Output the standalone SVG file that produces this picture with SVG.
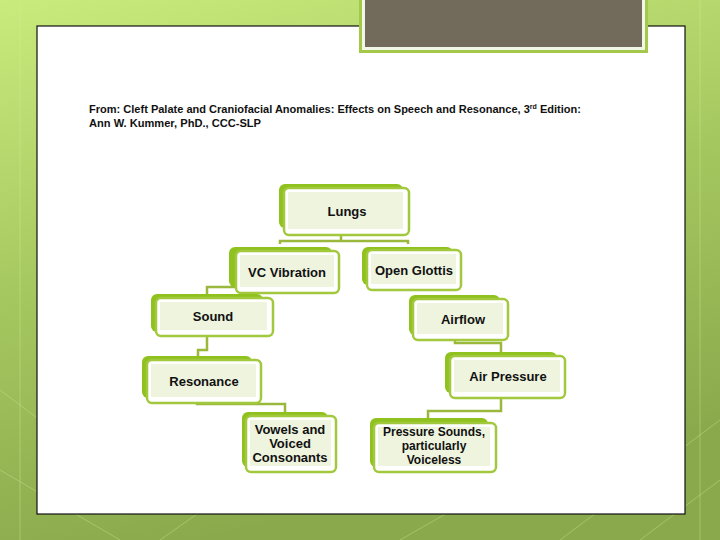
<svg xmlns="http://www.w3.org/2000/svg" width="720" height="540" viewBox="0 0 720 540">
<defs>
<linearGradient id="bg" x1="0" y1="0" x2="0.3" y2="1">
<stop offset="0" stop-color="#c9ea7c"/>
<stop offset="0.5" stop-color="#a6c860"/>
<stop offset="1" stop-color="#8aa94c"/>
</linearGradient>
<style>
.back{fill:#8fc21e}
.front{fill:#ffffff;stroke:#a2c83e;stroke-width:2.5}
.inner{fill:#eef4de}
.lbl{font-family:"Liberation Sans",Arial,sans-serif;font-weight:bold;font-size:13px;fill:#111;text-anchor:middle}
.sm{font-size:12px}
.ttl{font-family:"Liberation Sans",Arial,sans-serif;font-weight:bold;font-size:11px;fill:#111}
.conn{fill:none;stroke:#9ab83c;stroke-width:2.5}
.bgl{stroke:#d8f0a0;stroke-width:1;opacity:0.35;fill:none}
</style>
</defs>
<rect x="0" y="0" width="720" height="540" fill="url(#bg)"/>
<g class="bgl">
<path d="M0 470 L120 540 M0 390 L40 420 M560 540 L720 420 M640 540 L720 480 M20 0 L20 540 M700 0 L700 540 M160 540 L260 470 M400 540 L470 500"/>
</g>
<rect x="37" y="26" width="648" height="488" fill="#ffffff" stroke="#111" stroke-width="1.2"/>
<rect x="359" y="-2" width="289" height="55" fill="#a3c84a"/>
<rect x="362" y="-2" width="283" height="52" fill="#f2f6e6"/>
<rect x="365" y="-2" width="277" height="49" fill="#726a5a"/>
<text class="ttl" x="89" y="113" textLength="492" lengthAdjust="spacingAndGlyphs">From: Cleft Palate and Craniofacial Anomalies:  Effects on Speech and Resonance, 3<tspan font-size="7" dy="-4">rd</tspan><tspan dy="4"> Edition:</tspan></text>
<text class="ttl" x="89" y="127" textLength="172" lengthAdjust="spacingAndGlyphs">Ann W. Kummer, PhD., CCC-SLP</text>
<g id="connectors" class="conn">
<path d="M341 235 V241 M280 244 V241 H408 V244"/>
<path d="M236 287 H207 V295"/>
<path d="M207 336 V350 H198 V357"/>
<path d="M197 403 V404 H285 V412"/>
<path d="M455 340 V343 H501 V352"/>
<path d="M501 398 V411 H428 V419"/>
</g>
<g id="lungs">
<rect class="back" x="279" y="184" width="124" height="44" rx="6"/>
<rect class="front" x="284" y="188" width="125" height="47" rx="5"/>
<rect class="inner" x="288" y="192" width="115" height="37"/>
<text class="lbl" x="347" y="216">Lungs</text>
</g>
<g id="vc-vibration">
<rect class="back" x="229" y="247" width="103" height="40" rx="6"/>
<rect class="front" x="236" y="251" width="103" height="42" rx="5"/>
<rect class="inner" x="240" y="255" width="94" height="32"/>
<text class="lbl" x="287" y="277">VC Vibration</text>
</g>
<g id="open-glottis">
<rect class="back" x="362" y="247" width="91" height="38" rx="6"/>
<rect class="front" x="367" y="250" width="94" height="40" rx="5"/>
<rect class="inner" x="371" y="254" width="85" height="30"/>
<text class="lbl" x="414" y="275">Open Glottis</text>
</g>
<g id="sound">
<rect class="back" x="151" y="294" width="112" height="38" rx="6"/>
<rect class="front" x="156" y="298" width="117" height="38" rx="5"/>
<rect class="inner" x="160" y="302" width="107" height="28"/>
<text class="lbl" x="213" y="321">Sound</text>
</g>
<g id="airflow">
<rect class="back" x="409" y="295" width="91" height="40" rx="6"/>
<rect class="front" x="413" y="299" width="95" height="41" rx="5"/>
<rect class="inner" x="417" y="303" width="86" height="31"/>
<text class="lbl" x="463" y="324">Airflow</text>
</g>
<g id="resonance">
<rect class="back" x="142" y="356" width="110" height="42" rx="6"/>
<rect class="front" x="147" y="360" width="114" height="43" rx="5"/>
<rect class="inner" x="151" y="364" width="105" height="33"/>
<text class="lbl" x="204" y="386">Resonance</text>
</g>
<g id="air-pressure">
<rect class="back" x="445" y="352" width="112" height="41" rx="6"/>
<rect class="front" x="450" y="356" width="115" height="42" rx="5"/>
<rect class="inner" x="454" y="360" width="106" height="32"/>
<text class="lbl" x="508" y="381">Air Pressure</text>
</g>
<g id="vowels">
<rect class="back" x="242" y="412" width="86" height="55" rx="6"/>
<rect class="front" x="246" y="416" width="90" height="56" rx="5"/>
<rect class="inner" x="250" y="420" width="81" height="46"/>
<text class="lbl" x="290" y="434">Vowels and</text>
<text class="lbl" x="290" y="448">Voiced</text>
<text class="lbl" x="290" y="462">Consonants</text>
</g>
<g id="pressure-sounds">
<rect class="back" x="370" y="418" width="118" height="49" rx="6"/>
<rect class="front" x="374" y="423" width="122" height="49" rx="5"/>
<rect class="inner" x="378" y="427" width="112" height="39"/>
<text class="lbl sm" x="434" y="436">Pressure Sounds,</text>
<text class="lbl sm" x="434" y="450">particularly</text>
<text class="lbl sm" x="434" y="464">Voiceless</text>
</g>
</svg>
